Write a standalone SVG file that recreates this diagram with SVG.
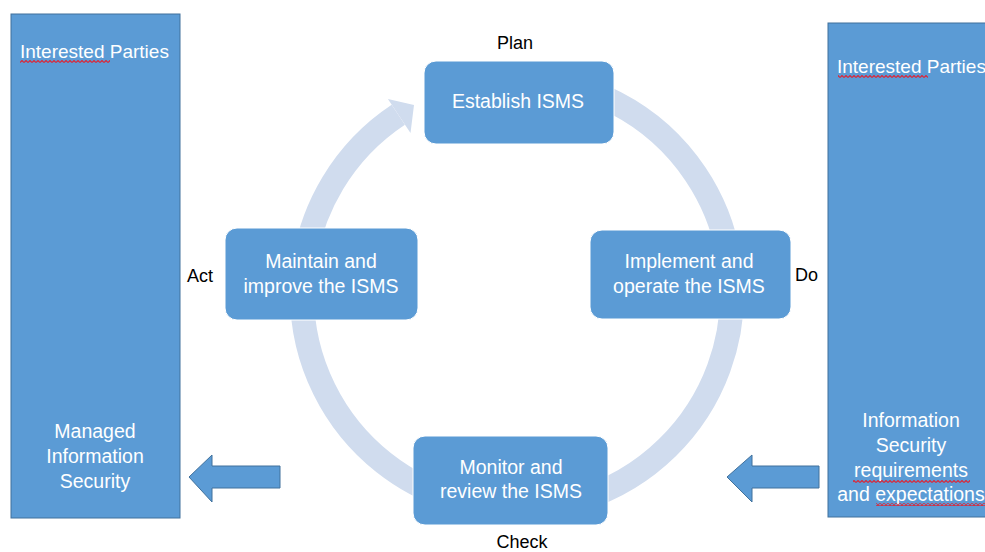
<svg xmlns="http://www.w3.org/2000/svg" width="985" height="552" viewBox="0 0 985 552">
<defs>
<style>
.panel{fill:#5B9BD5;stroke:#41719C;stroke-width:1}
.node{fill:#5B9BD5;stroke:#ffffff;stroke-width:1}
.wt{fill:#ffffff;font-family:"Liberation Sans",Arial,sans-serif;font-size:19.5px;text-anchor:middle}
.wl{fill:#ffffff;font-family:"Liberation Sans",Arial,sans-serif;font-size:19px}
.bt{fill:#000000;font-family:"Liberation Sans",Arial,sans-serif;font-size:18px}
.blk{fill:#5B9BD5;stroke:#41719C;stroke-width:1}
</style>
<pattern id="sq" width="4" height="3" patternUnits="userSpaceOnUse">
<path d="M0 2.5 L2 0.5 L4 2.5" fill="none" stroke="#D8283A" stroke-width="1.2"/>
</pattern>
</defs>
<rect width="985" height="552" fill="#ffffff"/>

<g id="panel-left">
<rect class="panel" x="11" y="14" width="169" height="504"/>
<text class="wl" x="20" y="58">Interested Parties</text>
<rect x="20" y="60" width="90" height="3" fill="url(#sq)"/>
<text class="wt" x="95" y="438">Managed</text>
<text class="wt" x="95" y="463">Information</text>
<text class="wt" x="95" y="488">Security</text>
</g>

<g id="panel-right">
<rect class="panel" x="828" y="23" width="162" height="494"/>
<text class="wl" x="837" y="73">Interested Parties</text>
<rect x="838" y="75" width="90" height="3" fill="url(#sq)"/>
<text class="wt" x="911" y="427">Information</text>
<text class="wt" x="911" y="452">Security</text>
<text class="wt" x="911" y="477">requirements</text>
<rect x="853" y="480" width="117" height="3" fill="url(#sq)"/>
<text class="wt" x="911" y="501">and expectations</text>
<rect x="876" y="503" width="109" height="3" fill="url(#sq)"/>
</g>

<g id="connectors">
<path d="M 524.5 79.1 A 215 215 0 1 1 398.3 114.7" fill="none" stroke="#D0DCEE" stroke-width="24"/>
<polygon points="387.9,98.9 414,105 410.5,133.1" fill="#D0DCEE"/>
<polygon class="blk" points="189,477 212,455 212,466 280,466 280,488 212,488 212,502"/>
<polygon class="blk" points="727,477 752,455 752,466 819,466 819,488 752,488 752,502"/>
</g>

<g id="node-plan">
<rect class="node" x="424" y="61" width="190" height="83" rx="12"/>
<text class="wt" x="518" y="108">Establish ISMS</text>
<text class="bt" x="515" y="49" text-anchor="middle">Plan</text>
</g>

<g id="node-do">
<rect class="node" x="590" y="230" width="201" height="89" rx="12"/>
<text class="wt" x="689" y="268">Implement and</text>
<text class="wt" x="689" y="293">operate the ISMS</text>
<text class="bt" x="795" y="281">Do</text>
</g>

<g id="node-check">
<rect class="node" x="413" y="436" width="195" height="89" rx="12"/>
<text class="wt" x="511" y="474">Monitor and</text>
<text class="wt" x="511" y="498">review the ISMS</text>
<text class="bt" x="522" y="548" text-anchor="middle">Check</text>
</g>

<g id="node-act">
<rect class="node" x="225" y="228" width="193" height="92" rx="12"/>
<text class="wt" x="321" y="268">Maintain and</text>
<text class="wt" x="321" y="293">improve the ISMS</text>
<text class="bt" x="187" y="282">Act</text>
</g>
</svg>
